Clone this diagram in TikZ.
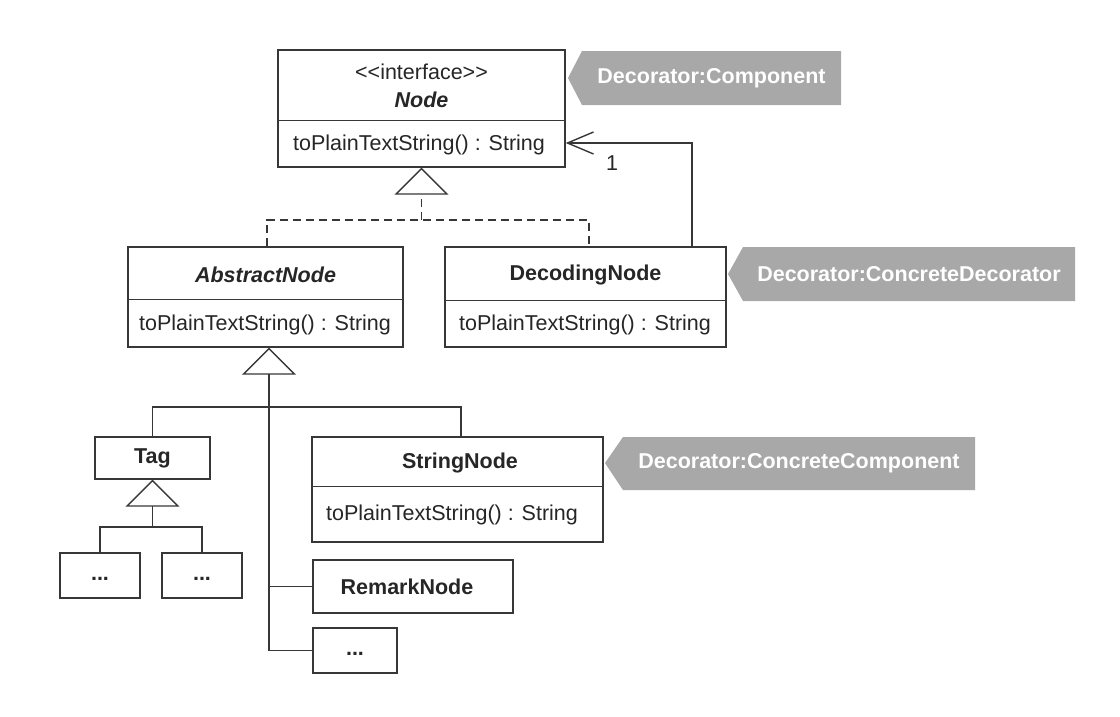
\documentclass[tikz,border=0pt]{standalone}
\usepackage{fontspec}
\setmainfont{Liberation Sans}[Ligatures=TeXOff]
\usetikzlibrary{arrows.meta}
\definecolor{lc}{RGB}{55,55,55}
\definecolor{tagg}{RGB}{168,168,168}
\begin{document}
\begin{tikzpicture}[x=1pt,y=-1pt,
  font=\fontsize{21.5}{25}\selectfont,
  cls/.style={draw=lc, line width=1.4pt, fill=white, inner sep=0pt, text=black!85},
  txt/.style={inner sep=0pt, text=black!85},
  op/.style={txt, anchor=west},
  ln/.style={draw=lc, line width=1.4pt},
  dsh/.style={ln, dash pattern=on 8pt off 5pt},
  inh/.style={ln, -{Triangle[open, length=27pt, width=54pt, line width=1.4pt]}},
  assoc/.style={ln, -{Straight Barb[length=26pt, width=22pt, line width=1.4pt]}},
  tagtxt/.style={inner sep=0pt, text=white, font=\fontsize{21.5}{25}\selectfont\bfseries},
  divider/.style={draw=lc, line width=1.2pt},
  dots/.style={cls, font=\fontsize{21.5}{25}\selectfont\bfseries}
]
\useasboundingbox (0,0) rectangle (1120,716);

% ---------- Node (interface) ----------
\node[cls, minimum width=287pt, minimum height=117pt] (node) at (421.5,108.5) {};
\draw[divider] ([yshift=-71pt]node.north west) -- ([yshift=-71pt]node.north east);
\node[txt] (nodeSt) at (421.5,72) {<<interface>>};
\node[txt, font=\fontsize{21.5}{25}\selectfont\bfseries\itshape] (nodeNm) at (421.5,100) {Node};
\node[op] (nodeOp) at (293,145) {toPlainTextString() : String};

% ---------- AbstractNode ----------
\node[cls, minimum width=275pt, minimum height=100pt] (abs) at (265.5,297) {};
\draw[divider] ([yshift=-53pt]abs.north west) -- ([yshift=-53pt]abs.north east);
\node[txt, font=\fontsize{21.5}{25}\selectfont\bfseries\itshape] (absNm) at (265.5,275) {AbstractNode};
\node[op] (absOp) at (139,325) {toPlainTextString() : String};

% ---------- DecodingNode ----------
\node[cls, minimum width=281pt, minimum height=100pt] (dec) at (585.5,297) {};
\draw[divider] ([yshift=-54pt]dec.north west) -- ([yshift=-54pt]dec.north east);
\node[txt, font=\fontsize{21.5}{25}\selectfont\bfseries] (decNm) at (585.5,275) {DecodingNode};
\node[op] (decOp) at (459,325) {toPlainTextString() : String};

% ---------- StringNode ----------
\node[cls, minimum width=291pt, minimum height=105pt] (str) at (457.5,489.5) {};
\draw[divider] ([yshift=-50pt]str.north west) -- ([yshift=-50pt]str.north east);
\node[txt, font=\fontsize{21.5}{25}\selectfont\bfseries] (strNm) at (460,463) {StringNode};
\node[op] (strOp) at (326,515) {toPlainTextString() : String};

% ---------- small classes ----------
\node[cls, minimum width=115pt, minimum height=42pt, font=\fontsize{21.5}{25}\selectfont\bfseries] (tag) at (152.5,458) {Tag};
\node[dots, minimum width=80pt, minimum height=45pt] (d1) at (100,575.5) {\vphantom{Ag}...};
\node[dots, minimum width=80pt, minimum height=45pt] (d2) at (202,575.5) {\vphantom{Ag}...};
\node[cls, minimum width=200pt, minimum height=53pt, font=\fontsize{21.5}{25}\selectfont\bfseries] (rem) at (413,586.5) {\hspace*{-12pt}RemarkNode};
\node[dots, minimum width=84pt, minimum height=45pt] (d3) at (355,650.5) {\vphantom{Ag}...};

% ---------- realisation of Node (dashed) ----------
\coordinate (j1) at (421.5,220);
\draw[dsh] ([xshift=1.5pt]abs.north) |- (j1) -| ([xshift=3.5pt]dec.north);
\draw[dsh, -{Triangle[open, length=27pt, width=54pt, line width=1.4pt]}] (j1) -- (node.south);

% ---------- association DecodingNode -> Node ----------
\draw[assoc] ([xshift=106.5pt]dec.north) |- ([yshift=-34.5pt]node.east);
\node[txt] (mult) at (612,163) {1};

% ---------- generalisation to AbstractNode ----------
\coordinate (j2) at (269,407);
\draw[ln] (d3.west) -| (j2);
\draw[ln] (rem.west) -- (rem.west -| j2);
\draw[ln] (tag.north) |- (j2);
\draw[ln] ([xshift=3.5pt]str.north) |- (j2);
\draw[inh] (j2) -- ([xshift=3.5pt]abs.south);

% ---------- generalisation to Tag ----------
\coordinate (j3) at (152.5,527);
\draw[ln] (d1.north) |- (j3) -| (d2.north);
\draw[inh] (j3) -- (tag.south);

% ---------- pattern tags ----------
\fill[tagg] (568,78) -- (582,51) -- (841,51) -- (841,105) -- (582,105) -- cycle;
\node[tagtxt] (tg1) at (711.5,78) {Decorator:Component};
\fill[tagg] (728,274) -- (743,247) -- (1075,247) -- (1075,301) -- (743,301) -- cycle;
\node[tagtxt] (tg2) at (909,274) {Decorator:ConcreteDecorator};
\fill[tagg] (605,463) -- (623,437) -- (975,437) -- (975,490) -- (623,490) -- cycle;
\node[tagtxt] (tg3) at (799,463) {Decorator:ConcreteComponent};
\end{tikzpicture}
\end{document}
